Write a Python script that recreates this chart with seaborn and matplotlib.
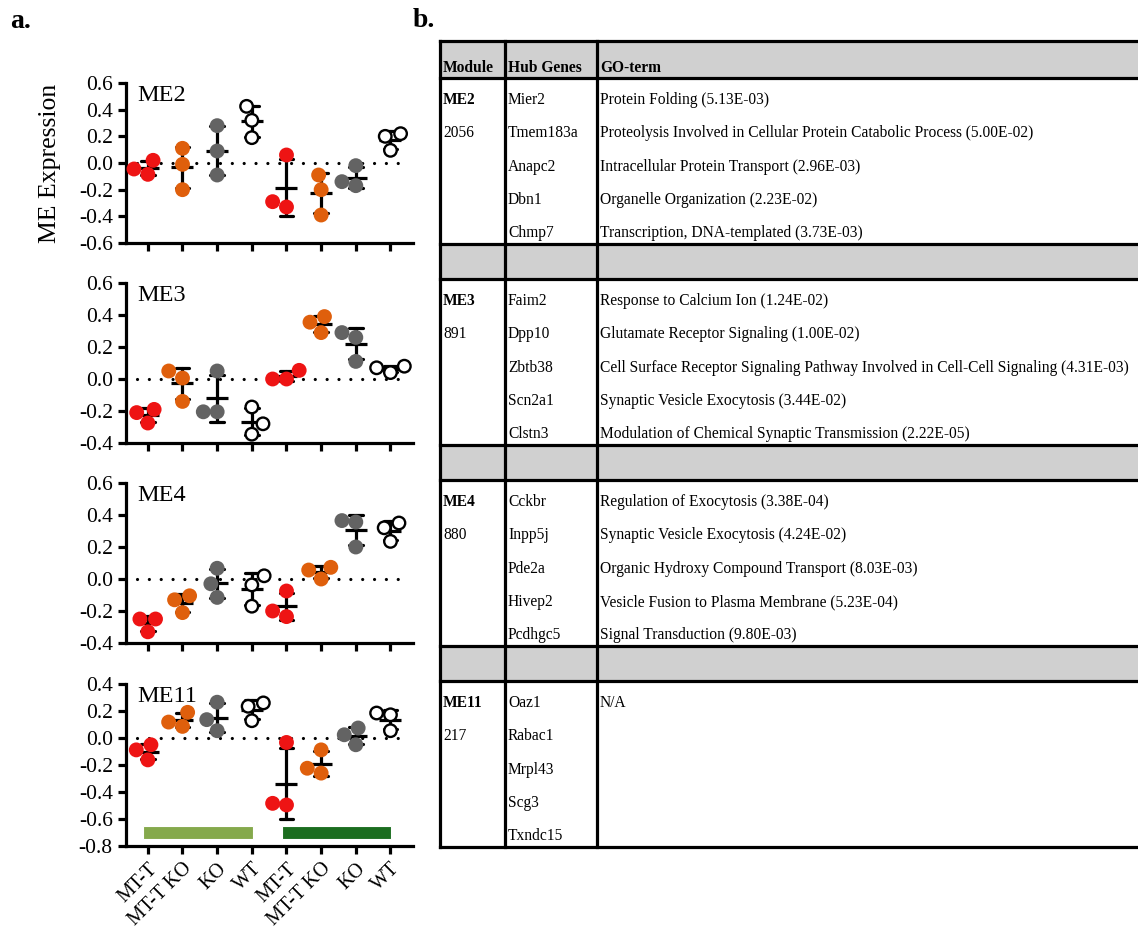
import numpy as np
import pandas as pd
import seaborn as sns
import matplotlib.pyplot as plt
from matplotlib.patches import Rectangle

# ---- data: panel a (module eigengene expression, 3 samples per group) ----
groups = ["MT-T", "MT-T KO", "KO", "WT"]
conditions = ["light", "dark"]
modules = ["ME2", "ME3", "ME4", "ME11"]

me2 = [[0.02, -0.045, -0.085], [0.11, -0.01, -0.2], [0.28, 0.09, -0.09], [0.425, 0.32, 0.19],
       [0.06, -0.29, -0.33], [-0.09, -0.2, -0.39], [-0.02, -0.14, -0.17], [0.22, 0.2, 0.095]]
me3 = [[-0.19, -0.21, -0.275], [0.05, 0.006, -0.14], [0.05, -0.205, -0.205], [-0.175, -0.28, -0.345],
       [0.054, 0.0, 0.0], [0.39, 0.355, 0.29], [0.29, 0.26, 0.11], [0.04, 0.07, 0.08]]
me4 = [[-0.25, -0.25, -0.33], [-0.105, -0.13, -0.21], [0.067, -0.03, -0.115], [0.02, -0.037, -0.17],
       [-0.075, -0.2, -0.235], [0.073, 0.056, 0.0], [0.365, 0.356, 0.2], [0.35, 0.32, 0.235]]
me11 = [[-0.05, -0.088, -0.162], [0.19, 0.118, 0.086], [0.265, 0.136, 0.054], [0.26, 0.235, 0.128],
        [-0.033, -0.484, -0.496], [-0.088, -0.224, -0.26], [0.074, 0.024, -0.05], [0.185, 0.172, 0.054]]
module_values = {"ME2": me2, "ME3": me3, "ME4": me4, "ME11": me11}
y_ranges = {"ME2": (-0.6, 0.6), "ME3": (-0.4, 0.6), "ME4": (-0.4, 0.6), "ME11": (-0.8, 0.4)}

# ---- data: panel b (table) ----
tab_modules = ["ME2", "ME3", "ME4", "ME11"]
tab_sizes = ["2056", "891", "880", "217"]
hub_genes = [
    ["Mier2", "Tmem183a", "Anapc2", "Dbn1", "Chmp7"],
    ["Faim2", "Dpp10", "Zbtb38", "Scn2a1", "Clstn3"],
    ["Cckbr", "Inpp5j", "Pde2a", "Hivep2", "Pcdhgc5"],
    ["Oaz1", "Rabac1", "Mrpl43", "Scg3", "Txndc15"],
]
go_terms = [
    ["Protein Folding (5.13E-03)",
     "Proteolysis Involved in Cellular Protein Catabolic Process (5.00E-02)",
     "Intracellular Protein Transport (2.96E-03)",
     "Organelle Organization (2.23E-02)",
     "Transcription, DNA-templated (3.73E-03)"],
    ["Response to Calcium Ion (1.24E-02)",
     "Glutamate Receptor Signaling (1.00E-02)",
     "Cell Surface Receptor Signaling Pathway Involved in Cell-Cell Signaling (4.31E-03)",
     "Synaptic Vesicle Exocytosis (3.44E-02)",
     "Modulation of Chemical Synaptic Transmission (2.22E-05)"],
    ["Regulation of Exocytosis (3.38E-04)",
     "Synaptic Vesicle Exocytosis (4.24E-02)",
     "Organic Hydroxy Compound Transport (8.03E-03)",
     "Vesicle Fusion to Plasma Membrane (5.23E-04)",
     "Signal Transduction (9.80E-03)"],
    ["N/A"],
]

group_colors = {"MT-T": "#ee1414", "MT-T KO": "#df5f0c", "KO": "#636363", "WT": "white"}
cond_colors = ["#85a94c", "#1b6d1f"]

slots = [f"{c}|{g}" for c in conditions for g in groups]
rows = []
for m in modules:
    for slot, vals in zip(slots, module_values[m]):
        for v in vals:
            rows.append({"module": m, "slot": slot, "group": slot.split("|")[1], "value": v})
df = pd.DataFrame(rows)

sns.set_style("ticks")
plt.rcParams["font.family"] = ["Liberation Serif", "DejaVu Serif"]
plt.rcParams["axes.unicode_minus"] = False
for key in ["text.color", "axes.labelcolor", "xtick.color", "ytick.color", "axes.edgecolor"]:
    plt.rcParams[key] = "black"

W, H = 1138, 943
fig = plt.figure(figsize=(W / 100, H / 100), dpi=100)
LW = 2.3

panel_tops = [83, 283, 483, 684]
panel_h = [160, 160, 160, 162]

for i, m in enumerate(modules):
    ax = fig.add_axes([126 / W, 1 - (panel_tops[i] + panel_h[i]) / H, 287 / W, panel_h[i] / H])
    d = df[df["module"] == m]
    # mean +/- SD
    sns.pointplot(data=d, x="slot", y="value", order=slots, errorbar="sd", color="black",
                  linestyle="none", marker="_", markersize=16, markeredgewidth=LW,
                  capsize=0.4, err_kws={"linewidth": LW}, ax=ax, zorder=2)
    n0 = len(ax.collections)
    sns.swarmplot(data=d, x="slot", y="value", hue="group", order=slots, hue_order=groups,
                  palette=group_colors, size=9, linewidth=0, legend=False, ax=ax, zorder=4)
    # open circles for WT
    for coll in ax.collections[n0:]:
        fc = np.array(coll.get_facecolors())
        ec = fc.copy()
        white = fc[:, :3].min(axis=1) > 0.95
        ec[white] = [0, 0, 0, 1]
        coll.set_edgecolors(ec)
        coll.set_linewidths(1.7)
    ax.axhline(0, xmin=0.04, xmax=0.97, color="black", lw=LW, ls=(0, (0.01, 3.7)),
               dash_capstyle="round", zorder=1)

    lo, hi = y_ranges[m]
    ax.set_ylim(lo, hi)
    ax.set_xlim(-0.63, 7.65)
    yt = np.round(np.arange(lo, hi + 0.001, 0.2), 1) + 0.0
    ax.set_yticks(yt)
    ax.set_yticklabels([f"{v:.1f}" for v in yt])
    ax.set_xticks(range(len(slots)))
    sns.despine(ax=ax)
    for s in ["left", "bottom"]:
        ax.spines[s].set_linewidth(LW)
    ax.tick_params(axis="both", length=6, width=LW, labelsize=15.5, color="black")
    ax.set_xlabel("")
    ax.set_ylabel("")
    ax.text(0.04, 0.985, m, transform=ax.transAxes, ha="left", va="top", fontsize=17.5)

    if m == "ME2":
        ax.set_ylabel("ME Expression", fontsize=18.5, labelpad=13)
    if i == len(modules) - 1:
        ax.set_xticklabels(groups * len(conditions), rotation=45, ha="right",
                           rotation_mode="anchor", fontsize=14.5)
        for k, c in enumerate(cond_colors):
            ax.add_patch(Rectangle((4 * k - 0.13, -0.75), 3.15, 0.095, facecolor=c,
                                   edgecolor="white", lw=0.8, zorder=1))
    else:
        ax.set_xticklabels([])

fig.text(10 / W, 1 - 28 / H, "a.", fontsize=20, fontweight="bold", va="baseline")
fig.text(413 / W, 1 - 27 / H, "b.", fontsize=20, fontweight="bold", va="baseline")

# ---- panel b: table drawn in pixel coordinates ----
axt = fig.add_axes([420 / W, 0, 1 - 420 / W, 1])
axt.set_xlim(420, W)
axt.set_ylim(H, 0)
axt.axis("off")

x_left, x_d1, x_d2, x_right = 440, 505, 597, 1160
y0, header_h, block_h, sep_h = 41, 37, 166, 35
gray = "#d0d0d0"
fs = 11.2

axt.add_patch(Rectangle((x_left, y0), x_right - x_left, header_h, facecolor=gray, edgecolor="none"))
axt.text(x_left + 3, y0 + header_h - 10, "Module", fontsize=fs, fontweight="bold", va="center")
axt.text(x_d1 + 3, y0 + header_h - 10, "Hub Genes", fontsize=fs, fontweight="bold", va="center")
axt.text(x_d2 + 3, y0 + header_h - 10, "GO-term", fontsize=fs, fontweight="bold", va="center")

hlines = [y0, y0 + header_h]
y = y0 + header_h
for b in range(len(tab_modules)):
    top = y
    axt.text(x_left + 3, top + 22, tab_modules[b], fontsize=fs, fontweight="bold", va="center")
    axt.text(x_left + 3, top + 22 + 33.3, tab_sizes[b], fontsize=fs, va="center")
    for r, gname in enumerate(hub_genes[b]):
        axt.text(x_d1 + 3, top + 22 + 33.3 * r, gname, fontsize=fs, va="center")
    for r, term in enumerate(go_terms[b]):
        axt.text(x_d2 + 3, top + 22 + 33.3 * r, term, fontsize=fs, va="center")
    y = top + block_h
    hlines.append(y)
    if b < len(tab_modules) - 1:
        axt.add_patch(Rectangle((x_left, y), x_right - x_left, sep_h, facecolor=gray, edgecolor="none"))
        y += sep_h
        hlines.append(y)
y_bottom = y

for yy in hlines:
    axt.plot([x_left, x_right], [yy, yy], color="black", lw=LW, solid_capstyle="projecting")
for xx in [x_left, x_d1, x_d2]:
    axt.plot([xx, xx], [y0, y_bottom], color="black", lw=LW, solid_capstyle="projecting")

fig.savefig("out.png", dpi=100)
